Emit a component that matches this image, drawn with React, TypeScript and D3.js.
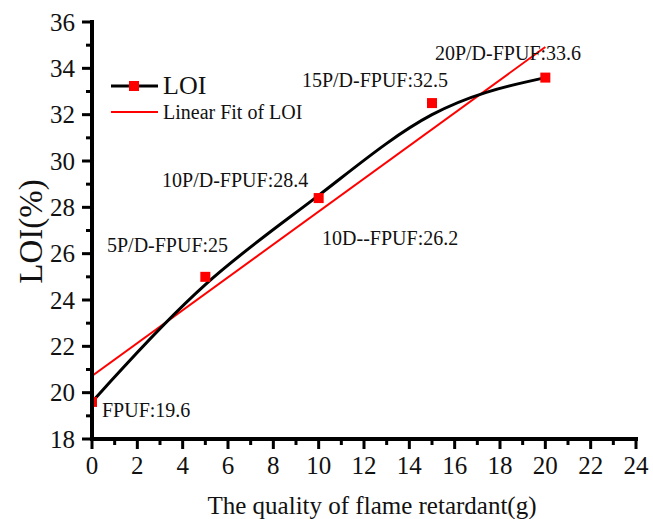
import * as d3 from 'd3';

const quality = [0, 5, 10, 15, 20];
const loi = [19.6, 25, 28.4, 32.5, 33.6];

// linear fit endpoints
const fitX = [0, 20];
const fitY = [20.72, 34.92];

const pointLabels = [
  '20P/D-FPUF:33.6',
  '15P/D-FPUF:32.5',
  '10P/D-FPUF:28.4',
  '5P/D-FPUF:25',
  '10D--FPUF:26.2',
  'FPUF:19.6',
];
// label anchor (left, baseline) in data units
const labelX = [15.13, 9.26, 3.09, 0.66, 10.15, 0.44];
const labelY = [34.36, 33.19, 28.88, 26.07, 26.37, 18.95];

const xTicks = d3.range(0, 25, 2);
const xMinor = d3.range(1, 24, 2);
const yTicks = d3.range(18, 37, 2);
const yMinor = d3.range(19, 36, 2);

const FONT = '"Liberation Serif", "Times New Roman", serif';
const RED = '#ff0000';

export default function App() {
  const width = 653;
  const height = 519;
  const left = 92;
  const right = 636;
  const top = 22;
  const bottom = 439;

  const x = d3.scaleLinear().domain([0, 24]).range([left, right]);
  const y = d3.scaleLinear().domain([18, 36]).range([bottom, top]);

  const pts = quality.map((q, i) => [q, loi[i]] as [number, number]);
  const smooth = d3
    .line<[number, number]>()
    .x((d) => x(d[0]))
    .y((d) => y(d[1]))
    .curve(d3.curveBasis)(pts) ?? '';
  const fit = d3
    .line<number>()
    .x((d) => x(d))
    .y((_, i) => y(fitY[i]))(fitX) ?? '';

  return (
    <svg
      width={width}
      height={height}
      style={{ position: 'absolute', left: 0, top: 0, background: '#fff' }}
      fontFamily={FONT}
    >
      <defs>
        <clipPath id='plot'>
          <rect x={left} y={0} width={right - left + 20} height={bottom} />
        </clipPath>
      </defs>

      {/* fit line and smoothed curve */}
      <g clipPath='url(#plot)'>
        <path d={fit} fill='none' stroke={RED} strokeWidth={2} />
        <path d={smooth} fill='none' stroke='#000' strokeWidth={3} />
        {pts.map((p) => (
          <rect
            key={p[0]}
            x={x(p[0]) - 5}
            y={y(p[1]) - 5}
            width={10}
            height={10}
            fill={RED}
          />
        ))}
      </g>

      {/* point annotations */}
      {pointLabels.map((t, i) => (
        <text key={t} x={x(labelX[i])} y={y(labelY[i])} fontSize={20} fill='#111'>
          {t}
        </text>
      ))}

      {/* axes drawn as filled rects so they stay solid black */}
      <g fill='#000'>
        <rect x={left - 2} y={top - 2} width={4} height={bottom - top + 4} />
        <rect x={left - 2} y={bottom - 2} width={right - left + 4} height={4} />
        {yTicks.map((t) => (
          <rect key={t} x={left - 10} y={y(t) - 1.5} width={10} height={3} />
        ))}
        {yMinor.map((t) => (
          <rect key={t} x={left - 6} y={y(t) - 1.5} width={6} height={3} />
        ))}
        {xTicks.map((t) => (
          <rect key={t} x={x(t) - 1.5} y={bottom} width={3} height={10} />
        ))}
        {xMinor.map((t) => (
          <rect key={t} x={x(t) - 1.5} y={bottom} width={3} height={6} />
        ))}
      </g>

      {/* tick labels */}
      {yTicks.map((t) => (
        <text
          key={t}
          x={left - 17}
          y={y(t)}
          textAnchor='end'
          dominantBaseline='central'
          fontSize={25}
          fill='#111'
        >
          {t}
        </text>
      ))}
      {xTicks.map((t) => (
        <text key={t} x={x(t)} y={bottom + 35} textAnchor='middle' fontSize={25} fill='#111'>
          {t}
        </text>
      ))}

      {/* axis titles */}
      <text
        transform={`translate(42, ${(top + bottom) / 2 + 1}) rotate(-90)`}
        textAnchor='middle'
        fontSize={33}
        fill='#111'
      >
        LOI(%)
      </text>
      <text x={372} y={514} textAnchor='middle' fontSize={25} fill='#111'>
        The quality of flame retardant(g)
      </text>

      {/* legend */}
      <line x1={111} x2={158} y1={86} y2={86} stroke='#000' strokeWidth={3} />
      <rect x={129} y={81} width={10} height={10} fill={RED} />
      <text x={163} y={94} fontSize={26} fill='#111'>
        LOI
      </text>
      <line x1={111} x2={158} y1={112} y2={112} stroke={RED} strokeWidth={2} />
      <text x={163} y={119} fontSize={20} fill='#111'>
        Linear Fit of LOI
      </text>
    </svg>
  );
}
